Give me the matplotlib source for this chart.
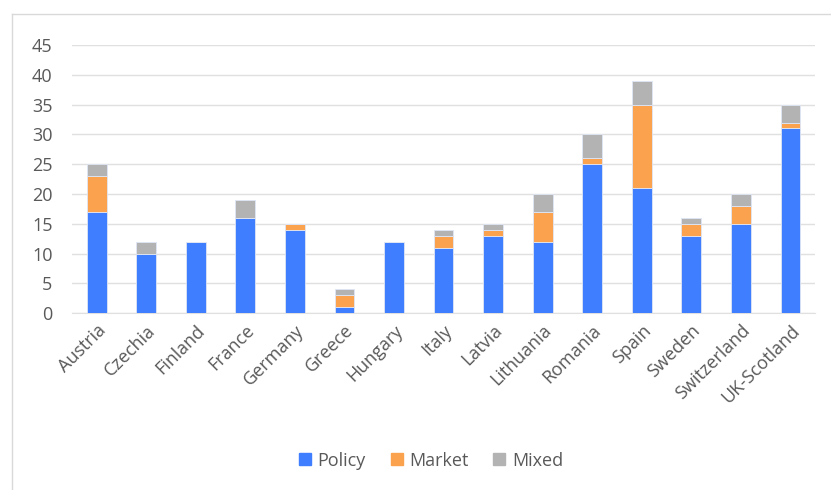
import matplotlib.pyplot as plt
import matplotlib.lines as mlines
import numpy as np

countries = ["Austria", "Czechia", "Finland", "France", "Germany", "Greece",
             "Hungary", "Italy", "Latvia", "Lithuania", "Romania", "Spain",
             "Sweden", "Switzerland", "UK-Scotland"]
policy = [17, 10, 12, 16, 14, 1, 12, 11, 13, 12, 25, 21, 13, 15, 31]
market = [6, 0, 0, 0, 1, 2, 0, 2, 1, 5, 1, 14, 2, 3, 1]
mixed = [2, 2, 0, 3, 0, 1, 0, 1, 1, 3, 4, 4, 1, 2, 3]

COLORS = {"Policy": "#3f7fff", "Market": "#fba24f", "Mixed": "#b3b3b3"}
TEXT = "#595959"

plt.rcParams["font.family"] = ["Open Sans", "DejaVu Sans"]

fig = plt.figure(figsize=(8.31, 4.9), dpi=100)
ax = fig.add_axes([0.0866, 0.361, 0.8944, 0.547])

x = np.arange(len(countries))
bottom = np.zeros(len(countries))
for name, vals in [("Policy", policy), ("Market", market), ("Mixed", mixed)]:
    ax.bar(x, vals, width=0.4, bottom=bottom, color=COLORS[name],
           edgecolor="#dfe6f5", linewidth=0.6, label=name, zorder=3)
    bottom += np.array(vals)

ax.set_xlim(-0.5, len(countries) - 0.5)
ax.set_ylim(0, 45)
ax.set_yticks(range(0, 46, 5))
ax.set_xticks(x)
ax.set_xticklabels(countries, rotation=45, ha="right", rotation_mode="anchor")
ax.tick_params(axis="both", length=0, labelsize=13, colors=TEXT)
ax.tick_params(axis="y", pad=14)
ax.tick_params(axis="x", pad=6)
ax.grid(axis="y", color="#e0e0e0", linewidth=1.0, zorder=0)
for side in ["top", "right", "left"]:
    ax.spines[side].set_visible(False)
ax.spines["bottom"].set_color("#e0e0e0")

handles = [mlines.Line2D([], [], marker="s", linestyle="none", markersize=9,
                         color=COLORS[n], label=n) for n in COLORS]
fig.legend(handles=handles, loc="center", bbox_to_anchor=(0.518, 0.06),
           ncol=3, frameon=False, fontsize=13, labelcolor=TEXT,
           handlelength=0.8, handletextpad=0.3, columnspacing=1.3)

# chart frame edges
fig.add_artist(mlines.Line2D([12 / 831, 1], [1 - 14 / 490, 1 - 14 / 490],
                             color="#d9d9d9", linewidth=1.0))
fig.add_artist(mlines.Line2D([12 / 831, 12 / 831], [0, 1 - 14 / 490],
                             color="#d9d9d9", linewidth=1.0))

fig.savefig("out.png", dpi=100)
